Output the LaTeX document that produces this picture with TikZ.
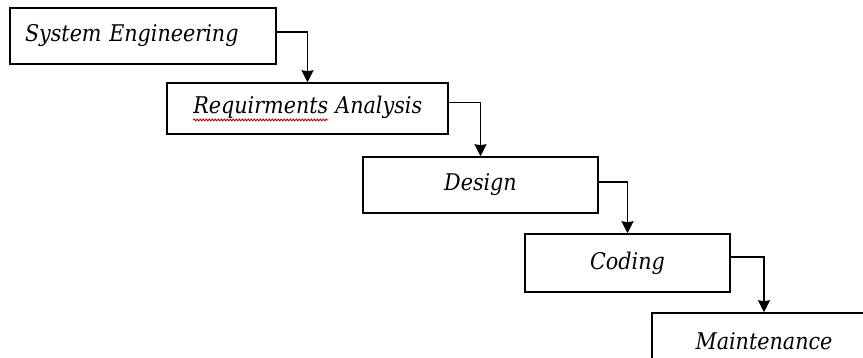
\documentclass[tikz,border=0pt]{standalone}
\usepackage{fontspec}
\setmainfont{DejaVu Serif Condensed}
\usepackage{tikz}
\usetikzlibrary{arrows.meta,decorations.pathmorphing}

% red spell-check wave under a word
\newcommand{\spellmark}[1]{\tikz[baseline=(w.base)]{\node[inner sep=0pt,outer sep=0pt,minimum size=0pt,draw=none] (w) {#1};
	\draw [red!75!black,line width=0.9pt,decorate,decoration={snake,amplitude=0.9pt,segment length=3pt}]
	([yshift=-2pt]w.south west) -- ([yshift=-2pt]w.south east);}}

\begin{document}
\begin{tikzpicture}[x=1pt,y=-1pt]
		\useasboundingbox (0,0) rectangle (863,358);
		\clip (0,0) rectangle (863,358);
		\begin{scope}[phase/.style={rectangle,draw,line width=1.5pt,inner sep=0pt,
					  font=\itshape\fontsize{23}{27}\selectfont}]
			\node [phase,minimum width=266pt,minimum height=56pt,text width=236pt,align=left] (se) at (143,36) {System Engineering};
			\node [phase,minimum width=281pt,minimum height=51pt] (ra) at (307.5,108.5) {\spellmark{Requirments} Analysis};
			\node [phase,minimum width=235pt,minimum height=56pt] (de) at (480.5,185) {Design};
			\node [phase,minimum width=205pt,minimum height=58pt] (co) at (627.5,263) {Coding};
			\node [phase,minimum width=224pt,minimum height=56pt] (ma) at (764,341) {Maintenance};
		\end{scope}

		\begin{scope}[>={Stealth[black,length=12pt,width=12pt,inset=1pt]},
					  flow/.style={draw=black,line width=1.6pt,->}]
			\draw [flow] ([yshift=4pt]se.east) -| (ra.north);
			\draw [flow] ([yshift=6pt]ra.east) -| (de.north);
			\draw [flow] ([yshift=3pt]de.east) -| (co.north);
			\draw [flow] ([yshift=6pt]co.east) -| (ma.north);
		\end{scope}
		\end{tikzpicture}
\end{document}
